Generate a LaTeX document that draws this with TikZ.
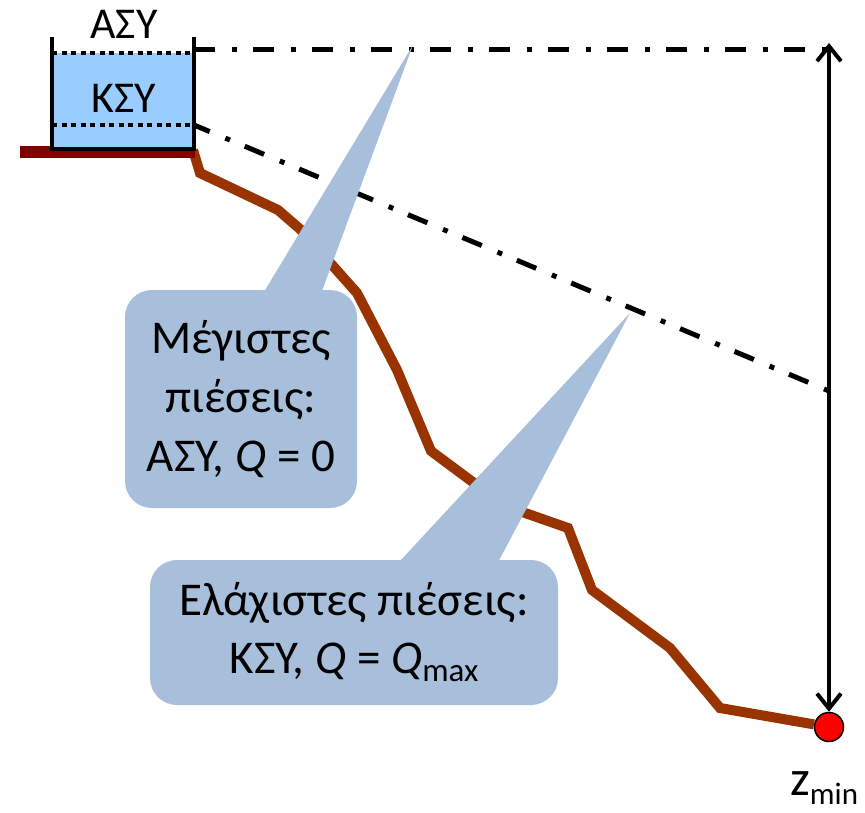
\documentclass[tikz,border=0pt]{standalone}
\usepackage{fontspec}
\setmainfont{Carlito}
\usetikzlibrary{arrows.meta,calc}
\definecolor{pipe}{RGB}{153,51,0}
\definecolor{ground}{RGB}{128,0,0}
\definecolor{water}{RGB}{153,204,255}
\definecolor{callfill}{RGB}{167,191,219}
\begin{document}
\begin{tikzpicture}[x=1pt,y=-1pt,
  wall/.style={line width=4.5pt},
  levelline/.style={line width=4pt, dash pattern=on 5pt off 4.5pt},
  hgl/.style={line width=5pt, dash pattern=on 21pt off 17pt on 5pt off 16pt},
  pipeline/.style={line width=10pt, draw=pipe, line join=miter},
  callbox/.style={fill=callfill, rounded corners=27pt, inner sep=0pt, align=center, font=\fontsize{47}{59}\selectfont},
  tanklabel/.style={font=\fontsize{44}{50}\selectfont, inner sep=0pt, anchor=base},
  barb/.tip={Straight Barb[length=15pt,width=24pt]},
]
\useasboundingbox (0,0) rectangle (865,812);
% key points
\coordinate (tl) at (52,37);
\coordinate (tr) at (194,37);
\coordinate (bl) at (52,149);
\coordinate (br) at (194,149);
\coordinate (asyL) at (52,53);
\coordinate (asyR) at (194,53);
\coordinate (ksyL) at (52,125);
\coordinate (ksyR) at (194,125);
\coordinate (hglA) at (194,49);
\coordinate (hglAend) at (828,49);
\coordinate (hglKend) at (829,391);
\coordinate (gL) at (20,152);
\coordinate (gR) at (195,152);
\coordinate (atop) at (829,43);
\node[circle, fill=red, draw=black, line width=1.5pt, minimum size=29pt, inner sep=0pt] (zmin) at (829,727) {};
% pipeline
\draw[pipeline] (193,150) -- (200,173) -- (278,210) -- (300,229) -- (357,293) -- (397,370) -- (431,451) -- (470,480) -- (508,507) -- (568,528) -- (592,590) -- (670,648) -- (720,708) -- (zmin);
% ground
\draw[line width=12pt, ground] (gL) -- (gR);
% tank
\fill[water] (asyL) rectangle (br);
\draw[levelline] (asyL) -- (asyR);
\draw[levelline] (ksyL) -- (ksyR);
\draw[wall] (tl) -- (bl) -- (br) -- (tr);
\node[tanklabel] (asy) at (124,38) {ΑΣΥ};
\node[tanklabel] (ksy) at (124,112) {ΚΣΥ};
% hydraulic grade lines
\draw[hgl] (hglA) -- (hglAend);
\draw[hgl, dash phase=4pt] (ksyR) -- (hglKend);
% vertical arrow
\draw[line width=4pt, {barb}-{barb}] (atop) -- (zmin.north);
\node[anchor=base west, inner sep=0pt, font=\fontsize{50}{50}\selectfont] (zlab) at (790,795) {z\raisebox{-9pt}{\fontsize{31}{31}\selectfont min}};
% callouts
\coordinate (tip1) at (413,45);
\coordinate (tip2) at (630,313);
\node[callbox, minimum width=232pt, minimum height=218pt] (c1) at (241,399) {Μέγιστες\\πιέσεις:\\ΑΣΥ, \textit{Q} = 0};
\fill[callfill] ($(c1.north)+(17,12)$) -- (tip1) -- ($(c1.north)+(77,12)$) -- cycle;
\node[callbox, minimum width=408pt, minimum height=145pt] (c2) at (354,632.5) {Ελάχιστες πιέσεις:\\[-1pt]ΚΣΥ, \textit{Q} = \textit{Q}\raisebox{-8pt}{\fontsize{33}{33}\selectfont max}};
\fill[callfill] ($(c2.north)+(36,12)$) -- (tip2) -- ($(c2.north)+(139,12)$) -- cycle;
\end{tikzpicture}
\end{document}
